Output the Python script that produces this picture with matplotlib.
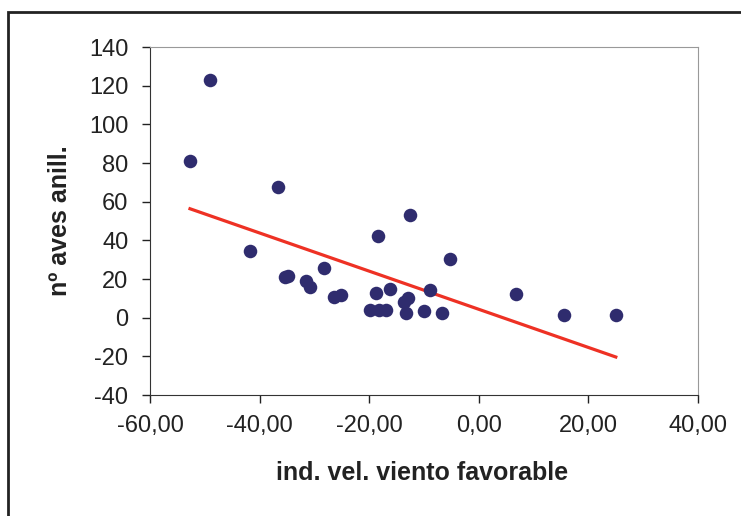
import numpy as np
import matplotlib
matplotlib.use('Agg')
import matplotlib.pyplot as plt
from matplotlib.patches import Rectangle

# wind index vs. number of ringed birds
viento = [-52.7, -49.0, -36.6, -41.8, -35.4, -34.8, -31.5, -30.8, -28.2,
          -26.4, -25.2, -18.4, -18.8, -16.2, -19.9, -18.3, -17.0, -13.6,
          -13.0, -13.3, -10.0, -6.7, -8.9, -5.3, -12.6, 6.8, 15.5, 25.0]
aves = [81, 123, 67.5, 34.3, 20.9, 21.7, 19, 15.8, 25.5,
        10.8, 11.9, 42.2, 13, 14.8, 3.8, 3.8, 4, 8.0,
        10.3, 2.2, 3.3, 2.5, 14.2, 30.3, 53, 12, 1.2, 1.2]

xticks = [-60, -40, -20, 0, 20, 40]
yticks = [-40, -20, 0, 20, 40, 60, 80, 100, 120, 140]

plt.rcParams['font.family'] = ['Liberation Sans', 'DejaVu Sans']
plt.rcParams['axes.unicode_minus'] = False

fig = plt.figure(figsize=(7.41, 5.16), dpi=100)
ax = fig.add_axes([150/741, 1-395/516, 548/741, 348/516])

ax.scatter(viento, aves, s=95, color='#2f2c6e', zorder=3, linewidths=0)

# linear trend line over the data range
m, b = np.polyfit(viento, aves, 1)
xl = np.array([min(viento), max(viento)])
ax.plot(xl, m*xl + b, color='#ee3124', lw=2.3, zorder=2)

ax.set_xlim(-60, 40)
ax.set_ylim(-40, 140)
ax.set_xticks(xticks)
ax.set_yticks(yticks)
ax.set_xticklabels([('%.2f' % v).replace('.', ',') for v in xticks])
ax.tick_params(direction='out', length=5.5, width=1, labelsize=17,
               colors='#222222')
ax.tick_params(axis='x', pad=9)
ax.tick_params(axis='y', pad=10)

for s in ['top', 'right']:
    ax.spines[s].set_color('#999999')
for s in ['left', 'bottom']:
    ax.spines[s].set_color('#333333')

ax.set_xlabel('ind. vel. viento favorable', fontsize=18, fontweight='bold',
              color='#222222')
ax.set_ylabel('nº aves anill.', fontsize=18, fontweight='bold',
              color='#222222')
ax.xaxis.set_label_coords(0.497, -0.19)
ax.yaxis.set_label_coords(-0.142, 0.5)

# outer chart border
fig.patches.append(Rectangle((8/741, -0.05), 1.1, 1 - 12/516 + 0.05,
                             transform=fig.transFigure, fill=False,
                             edgecolor='#222222', lw=2))

fig.savefig('out.png', dpi=100)
